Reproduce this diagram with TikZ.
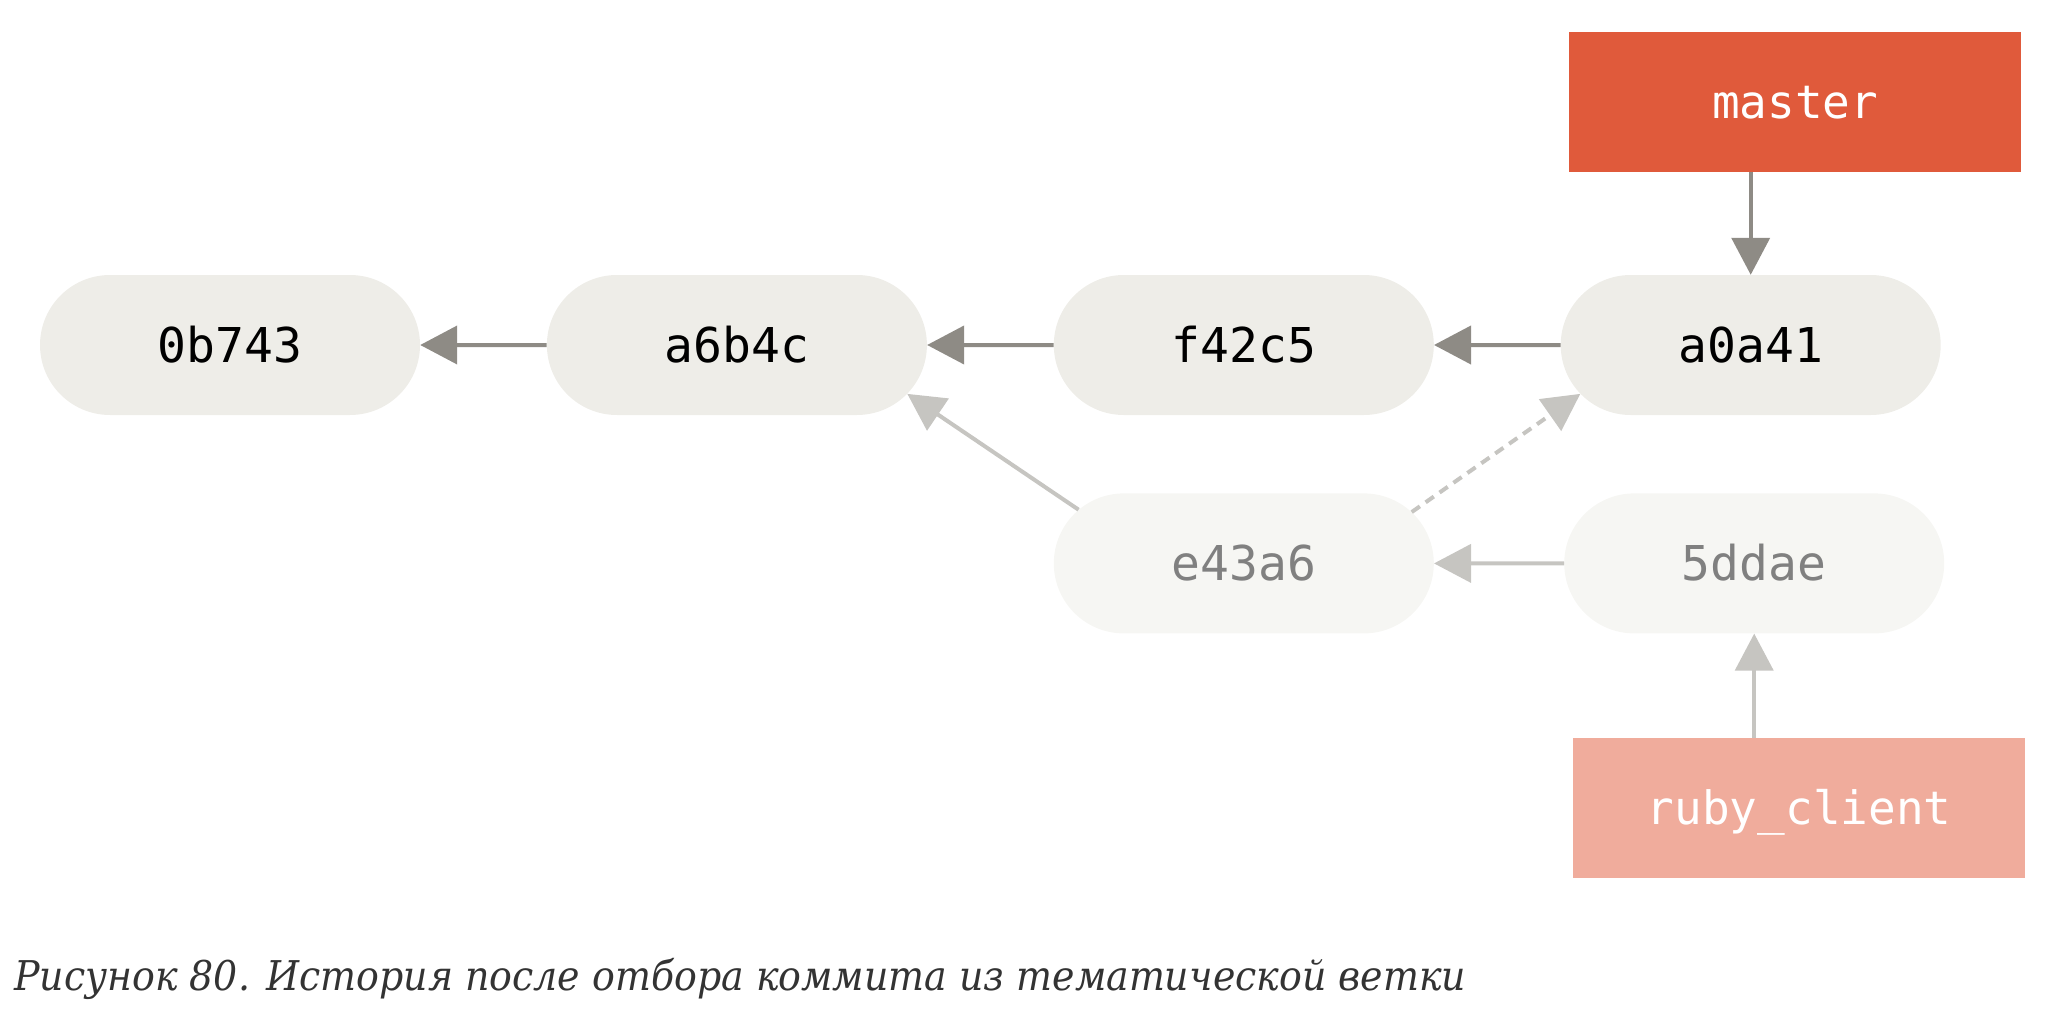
\documentclass[tikz,border=0pt]{standalone}
\usepackage{fontspec}
\setmainfont{DejaVu Serif}
\setmonofont{DejaVu Sans Mono}
\usepackage{tikz}
\usetikzlibrary{positioning}
\usetikzlibrary{arrows.meta}
\usetikzlibrary{shapes.misc}

\definecolor{commitfill}{HTML}{EEEDE8}
\definecolor{oldfill}{HTML}{F6F6F3}
\definecolor{masterred}{HTML}{E05A3B}
\definecolor{topicred}{HTML}{F0AC9C}
\definecolor{arrowgray}{HTML}{8E8B85}
\definecolor{oldgray}{HTML}{C6C5C1}
\definecolor{oldtext}{HTML}{808080}
\definecolor{captiongray}{HTML}{333333}

\tikzset{
  commit/.style={rounded rectangle, fill=commitfill, minimum width=380pt, minimum height=140pt,
    inner sep=0pt, text height=35pt, text depth=0pt, font=\fontsize{48}{48}\selectfont\ttfamily},
  oldcommit/.style={commit, fill=oldfill, text=oldtext},
  branch/.style={rectangle, fill=masterred, text=white, minimum width=452pt, minimum height=140pt,
    inner sep=0pt, text height=34pt, text depth=0pt, font=\fontsize{46}{46}\selectfont\ttfamily},
  topic/.style={branch, fill=topicred},
  pointer/.style={draw=arrowgray, line width=4pt, -{Triangle[length=37pt, width=38pt]}},
  oldpointer/.style={pointer, draw=oldgray},
}

\begin{document}
\begin{tikzpicture}

  \useasboundingbox (0pt,0pt) rectangle (2058pt,-1030pt);

  % Define nodes
  \node[commit] (c0b743) at (230pt,-345pt) {0b743};
  \node[commit, right=126.5pt of c0b743] (a6b4c) {a6b4c};
  \node[commit, right=126.5pt of a6b4c] (f42c5) {f42c5};
  \node[commit, right=126.5pt of f42c5] (a0a41) {a0a41};
  \node[oldcommit, below=78pt of f42c5] (e43a6) {e43a6};
  \node[oldcommit, below=78pt of a0a41, xshift=3.5pt] (c5ddae) {5ddae};
  \node[branch, above=103pt of a0a41, xshift=44.5pt] (master) {master};
  \node[topic, below=104pt of c5ddae, xshift=45pt] (ruby) {ruby\_client};

  \node[anchor=base west, inner sep=0pt, text=captiongray, font=\fontsize{41}{41}\selectfont\itshape]
    (caption) at (14pt,-990pt) {\scalebox{0.925}[1]{Рисунок 80. История после отбора коммита из тематической ветки}};

  % Connect the nodes
  \draw[pointer] (a6b4c) -- (c0b743) ; %
  \draw[pointer] (f42c5) -- (a6b4c) ; %
  \draw[pointer] (a0a41) -- (f42c5) ; %
  \draw[pointer] (master.south -| a0a41) -- (a0a41.north) ; %
  \draw[oldpointer] (e43a6.162) -- (a6b4c.-16) ; %
  \draw[oldpointer, dash pattern=on 10pt off 7pt] (e43a6.17) -- (a0a41.196) ; %
  \draw[oldpointer] (c5ddae) -- (e43a6) ; %
  \draw[oldpointer] (ruby.north -| c5ddae) -- (c5ddae.south) ; %

\end{tikzpicture}
\end{document}
